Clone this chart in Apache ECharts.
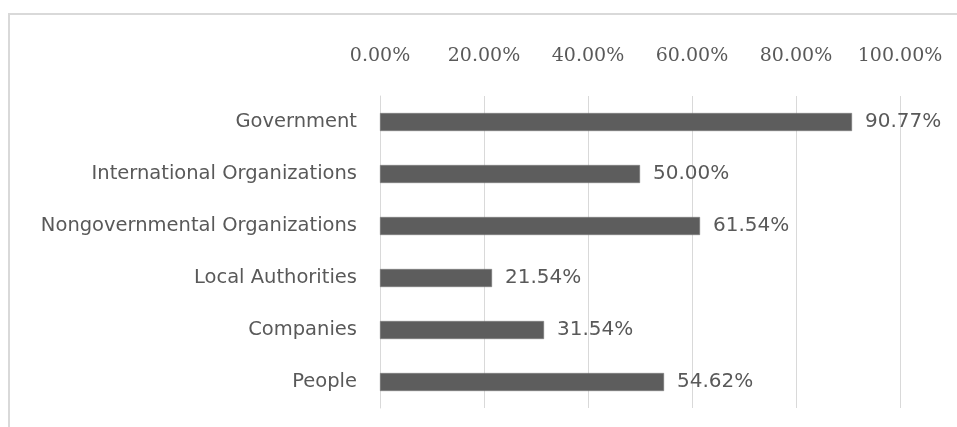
<!DOCTYPE html>
<html>
<head>
<meta charset="utf-8">
<script src="https://cdn.jsdelivr.net/npm/echarts@6/dist/echarts.min.js"></script>
<style>
  html, body { margin: 0; padding: 0; background: #fff; }
  #chart { width: 957px; height: 427px; }
</style>
</head>
<body>
<div id="chart"></div>
<script>
const categories = [
  "Government",
  "International Organizations",
  "Nongovernmental Organizations",
  "Local Authorities",
  "Companies",
  "People",
];
const shares = [90.77, 50.0, 61.54, 21.54, 31.54, 54.62];

const TEXT = "#595959";
const SPLIT = "#d9d9d9";

const chart = echarts.init(document.getElementById("chart"));
chart.setOption({
  animation: false,
  // 外框：只露出上边和左边
  graphic: [
    {
      type: "rect",
      shape: { x: 9, y: 14, width: 1000, height: 500 },
      style: { fill: "none", stroke: SPLIT, lineWidth: 2 },
    },
  ],
  grid: { left: 380, right: 57, top: 96, bottom: 19 },
  xAxis: {
    type: "value",
    position: "top",
    min: 0,
    max: 100,
    interval: 20,
    axisLine: { show: false },
    axisTick: { show: false },
    axisLabel: {
      color: TEXT,
      fontFamily: "DejaVu Serif",
      fontSize: 19,
      margin: 30,
      formatter: (v) => v.toFixed(2) + "%",
    },
    splitLine: { lineStyle: { color: SPLIT, width: 1 } },
  },
  yAxis: {
    type: "category",
    data: categories,
    inverse: true,
    axisLine: { lineStyle: { color: SPLIT } },
    axisTick: { show: false },
    axisLabel: { color: TEXT, fontFamily: "DejaVu Sans", fontSize: 19.5, margin: 23 },
  },
  series: [
    {
      type: "bar",
      data: shares,
      barWidth: 18,
      itemStyle: { color: "#5d5d5d", borderColor: "#7a7a7a", borderWidth: 0.5 },
      label: {
        show: true,
        position: "right",
        distance: 13,
        color: TEXT,
        fontFamily: "DejaVu Sans",
        fontSize: 20,
        formatter: (p) => p.value.toFixed(2) + "%",
      },
    },
  ],
});
</script>
</body>
</html>
